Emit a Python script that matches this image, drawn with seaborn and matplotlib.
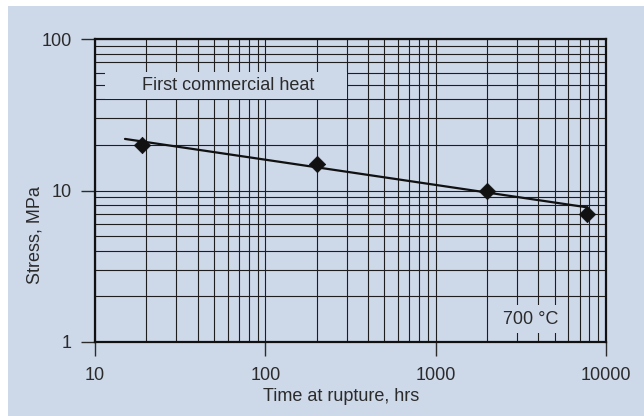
import matplotlib
matplotlib.use("Agg")
import matplotlib.pyplot as plt
from matplotlib.patches import Rectangle
from matplotlib.ticker import LogLocator, FixedLocator, FixedFormatter, NullFormatter
import seaborn as sns
import pandas as pd

# Creep-rupture test results
rupture_hours = [19, 200, 2000, 7700]
stress_mpa = [20, 15, 10, 7]

# Fitted trend line end points
fit_hours = [15, 7700]
fit_stress = [21.9, 7.75]

x_ticks = [10, 100, 1000, 10000]
x_tick_labels = ["10", "100", "1000", "10000"]
y_ticks = [1, 10, 100]
y_tick_labels = ["1", "10", "100"]

panel_blue = "#cdd8e9"
ink = "#2b2b2b"
text_size = 13

sns.set_theme(style="white")
plt.rcParams["font.family"] = ["Liberation Sans", "DejaVu Sans"]

points = pd.DataFrame({"hours": rupture_hours, "stress": stress_mpa})
trend = pd.DataFrame({"hours": fit_hours, "stress": fit_stress})

fig = plt.figure(figsize=(6.44, 4.16), dpi=100, facecolor="white")
fig.patches.append(Rectangle((8 / 644, 0), 1 - 8 / 644, 1 - 6 / 416,
                             transform=fig.transFigure, facecolor=panel_blue,
                             edgecolor="none", zorder=-10))
ax = fig.add_axes([95 / 644, 74 / 416, 511 / 644, 303 / 416])
ax.set_facecolor(panel_blue)

ax.set_xscale("log")
ax.set_yscale("log")
ax.set_xlim(10, 10000)
ax.set_ylim(1, 100)

sns.lineplot(data=trend, x="hours", y="stress", ax=ax, color="#111111",
             linewidth=1.6, zorder=5)
sns.scatterplot(data=points, x="hours", y="stress", ax=ax, marker="D",
                s=70, color="#111111", edgecolor="#111111", linewidth=0.5,
                zorder=6)

# Log-paper grid: every major and minor decade line
ax.xaxis.set_major_locator(FixedLocator(x_ticks))
ax.xaxis.set_major_formatter(FixedFormatter(x_tick_labels))
ax.yaxis.set_major_locator(FixedLocator(y_ticks))
ax.yaxis.set_major_formatter(FixedFormatter(y_tick_labels))
ax.xaxis.set_minor_locator(LogLocator(base=10, subs=range(2, 10)))
ax.yaxis.set_minor_locator(LogLocator(base=10, subs=range(2, 10)))
ax.xaxis.set_minor_formatter(NullFormatter())
ax.yaxis.set_minor_formatter(NullFormatter())
ax.grid(True, which="both", color="#1e1e1e", linewidth=0.8)
ax.set_axisbelow(True)

ax.tick_params(which="major", direction="out", length=10, width=1.0,
               color=ink, labelcolor=ink, labelsize=text_size,
               bottom=True, left=True, top=False, right=False)
ax.tick_params(axis="x", which="major", pad=8)
ax.tick_params(axis="y", which="major", pad=7)
ax.tick_params(which="minor", length=0)

for spine in ax.spines.values():
    spine.set_color("#111111")
    spine.set_linewidth(1.6)

ax.set_xlabel("Time at rupture, hrs", fontsize=text_size, color=ink)
ax.set_ylabel("Stress, MPa", fontsize=text_size, color=ink)
ax.xaxis.label.set_va("center")
ax.yaxis.label.set_va("center")
ax.xaxis.set_label_coords(0.481, -0.1815)
ax.yaxis.set_label_coords(-0.117, 0.353)

# Label panels that mask the grid behind them
ax.add_patch(Rectangle((0.0196, 0.802), 0.4734, 0.089, transform=ax.transAxes,
                       facecolor=panel_blue, edgecolor="none", zorder=3))
ax.text(0.260, 0.846, "First commercial heat", transform=ax.transAxes,
        ha="center", va="center", fontsize=text_size, color=ink, zorder=4)
ax.add_patch(Rectangle((0.789, 0.030), 0.127, 0.092, transform=ax.transAxes,
                       facecolor=panel_blue, edgecolor="none", zorder=3))
ax.text(0.853, 0.073, "700 °C", transform=ax.transAxes,
        ha="center", va="center", fontsize=text_size, color=ink, zorder=4)

fig.savefig("out.png", dpi=100, facecolor="white")
